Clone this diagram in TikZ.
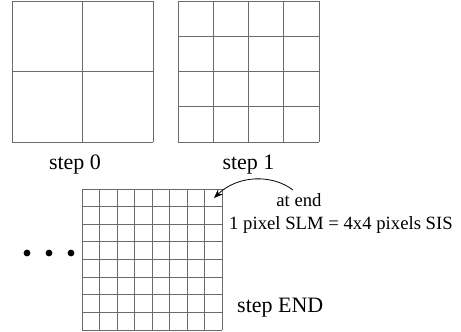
\documentclass[tikz,border=0pt]{standalone}
\usepackage{fontspec}
\setmainfont{Liberation Serif}
\usetikzlibrary{arrows.meta,calc}
\begin{document}
\begin{tikzpicture}[x=1pt,y=1pt,
  gridline/.style={draw=black!58, line width=0.9pt},
  gridbox/.style={draw=none, minimum width=141pt, minimum height=141pt, inner sep=0pt, outer sep=0pt},
  lbl/.style={font=\fontsize{22}{26}\selectfont, inner sep=0pt, anchor=base},
  note/.style={font=\fontsize{18.7}{22}\selectfont, inner sep=0pt, anchor=base},
  dotc/.style={fill=black, circle, inner sep=0pt, minimum size=6.8pt}]
\useasboundingbox (0,0) rectangle (461,332);
% grid boxes
\node[gridbox] (g0) at (82.5,260.5) {};
\node[gridbox] (g1) at (248.5,260.5) {};
\node[gridbox, minimum width=140pt] (g2) at (152,72.5) {};
% step 0 grid: 2x2
\foreach \i in {0,...,2} {
  \draw[gridline] ($(g0.south west)+(\i*70.5,0)$) -- ($(g0.north west)+(\i*70.5,0)$);
  \draw[gridline] ($(g0.south west)+(0,\i*70.5)$) -- ($(g0.south east)+(0,\i*70.5)$);
}
% step 1 grid: 4x4
\foreach \i in {0,...,4} {
  \draw[gridline] ($(g1.south west)+(\i*35.25,0)$) -- ($(g1.north west)+(\i*35.25,0)$);
  \draw[gridline] ($(g1.south west)+(0,\i*35.25)$) -- ($(g1.south east)+(0,\i*35.25)$);
}
% step END grid: 8x8
\foreach \i in {0,...,8} {
  \draw[gridline] ($(g2.south west)+(\i*17.5,0)$) -- ($(g2.north west)+(\i*17.5,0)$);
  \draw[gridline] ($(g2.south west)+(0,\i*17.625)$) -- ($(g2.south east)+(0,\i*17.625)$);
}
% labels
\node[lbl] (l0) at (75,162) {step 0};
\node[lbl] (l1) at (248.5,162) {step 1};
\node[lbl, anchor=base west] (l2) at (237,19) {step END};
\node[note] (n1) at (299,125) {at end};
\node[note, anchor=base west] (n2) at (229,102) {1 pixel SLM = 4x4 pixels SIS};
% dots
\node[dotc] (d1) at (27,79) {};
\node[dotc] (d2) at (49,79) {};
\node[dotc] (d3) at (71,79) {};
% arrow
\coordinate (a0) at (293,142);
\coordinate (a1) at (214,134);
\draw[line width=0.8pt, -{Stealth[length=9pt, width=7pt, inset=3pt]}] (a0) .. controls (272,158) and (238,157) .. (a1);
\end{tikzpicture}
\end{document}
